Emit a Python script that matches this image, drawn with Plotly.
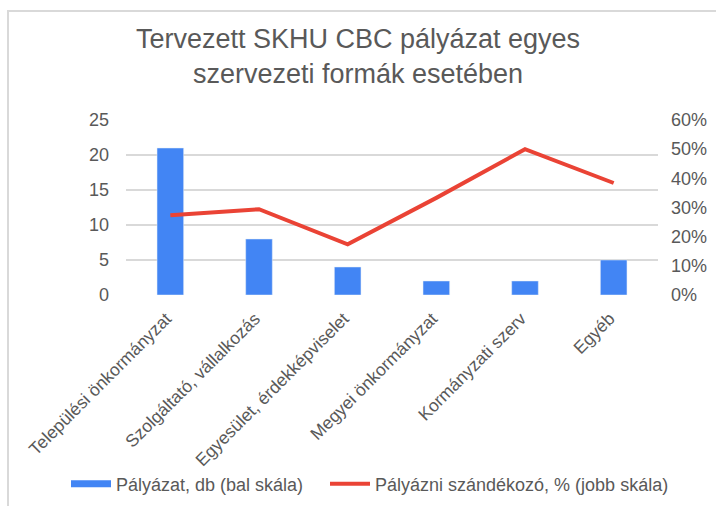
import plotly.graph_objects as go

categories = ["Települési önkormányzat", "Szolgáltató, vállalkozás", "Egyesület, érdekképviselet",
              "Megyei önkormányzat", "Kormányzati szerv", "Egyéb"]
applications = [21, 8, 4, 2, 2, 5]
intent_share = [0.273, 0.294, 0.174, 0.333, 0.50, 0.384]
left_ticks = [0, 5, 10, 15, 20, 25]
right_ticks = [0, 0.1, 0.2, 0.3, 0.4, 0.5, 0.6]

name_bar = "Pályázat, db (bal skála)"
name_line = "Pályázni szándékozó, % (jobb skála)"
title_text = "Tervezett SKHU CBC pályázat egyes<br>szervezeti formák esetében"

BLUE = "#4285F4"
RED = "#EA4335"
GRID = "#d9d9d9"
TXT = "#595959"
FONT = "Liberation Sans, Arial, sans-serif"

L, R, T, B = 126, 58, 120, 211
PW, PH = 716 - L - R, 506 - T - B

fig = go.Figure()
fig.add_trace(go.Bar(x=categories, y=applications, marker_color=BLUE, width=0.3,
                     name=name_bar, showlegend=False, yaxis="y"))
# legend-only entry drawn as a thick bar-coloured stroke
fig.add_trace(go.Scatter(x=[None], y=[None], mode="lines", line=dict(color=BLUE, width=7),
                         name=name_bar, yaxis="y", legend="legend"))
fig.add_trace(go.Scatter(x=categories, y=intent_share, mode="lines", line=dict(color=RED, width=4),
                         name=name_line, yaxis="y2", legend="legend2"))

leg_y = (PH - (484 - T)) / PH
fig.update_layout(
    width=716, height=506,
    margin=dict(l=L, r=R, t=T, b=B, autoexpand=False),
    paper_bgcolor="white", plot_bgcolor="white",
    font=dict(family=FONT, color=TXT, size=17),
    title=dict(text=title_text, x=0.5, xref="container", xanchor="center",
               y=1 - 48 / 506, yref="container", yanchor="middle",
               font=dict(size=27, color=TXT, family=FONT)),
    xaxis=dict(tickangle=-45, showgrid=False, showline=False, ticks="",
               ticklabelstandoff=9, ticklabelshift=-4,
               tickfont=dict(size=17.5, color=TXT)),
    yaxis=dict(range=[0, 25], tickvals=left_ticks, showgrid=True, gridcolor=GRID, gridwidth=1.5,
               zeroline=False, showline=False, ticks="", ticklabelstandoff=16,
               tickfont=dict(size=18, color=TXT)),
    yaxis2=dict(range=[0, 0.6], tickvals=right_ticks, tickformat=".0%", overlaying="y", side="right",
                showgrid=False, zeroline=False, showline=False, ticks="", ticklabelstandoff=12,
                tickfont=dict(size=18, color=TXT)),
    legend=dict(orientation="h", xref="paper", x=(66 - L) / PW, xanchor="left",
                yref="paper", y=leg_y, yanchor="middle", itemwidth=40,
                font=dict(size=18, color=TXT), bgcolor="rgba(0,0,0,0)"),
    legend2=dict(orientation="h", xref="paper", x=(325 - L) / PW, xanchor="left",
                 yref="paper", y=leg_y, yanchor="middle", itemwidth=40,
                 font=dict(size=18, color=TXT), bgcolor="rgba(0,0,0,0)"),
    shapes=[dict(type="rect", xref="paper", yref="paper",
                 x0=(8 - L) / PW, x1=2, y0=-3, y1=(PH - (11 - T)) / PH,
                 line=dict(color=GRID, width=2), fillcolor="rgba(0,0,0,0)", layer="below")],
)

fig.write_html("out.html", config={"displayModeBar": False},
               post_script="document.body.style.margin='0px';")
